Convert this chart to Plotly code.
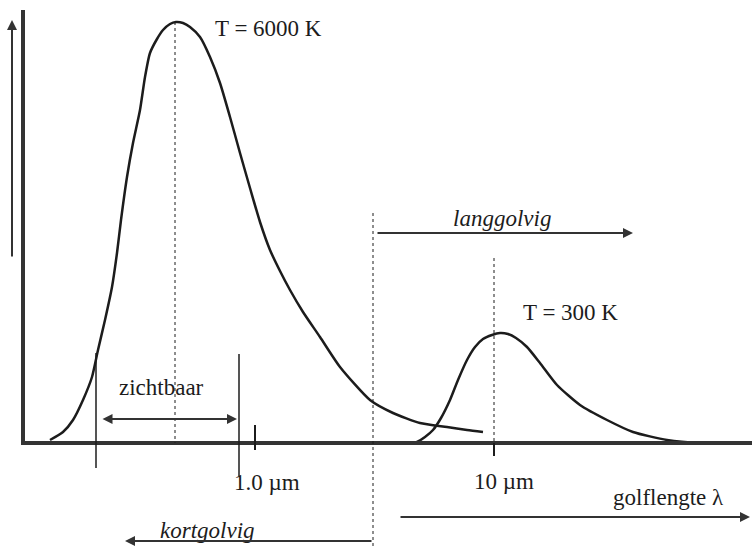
import plotly.graph_objects as go

# Sketch coordinates: x = position along wavelength axis, y = relative intensity
hot_x = [50, 63, 73, 83, 92, 98, 105, 112, 117, 121, 127, 133, 140, 145, 150, 157, 163, 170, 176, 183, 190, 200, 210, 220, 230, 240, 250, 260, 270, 280, 290, 303, 320, 340, 370, 393, 420, 447, 467, 483]
hot_y = [3, 11, 23, 43, 66, 93, 123, 156, 190, 223, 266, 300, 333, 366, 390, 404, 413, 419, 421, 420, 416, 406, 386, 360, 326, 290, 255, 221, 193, 172, 153, 131, 106, 76, 43, 30, 20, 16, 13, 11]
cold_x = [413, 417, 425, 433, 441, 450, 458, 467, 475, 483, 492, 500, 508, 516, 527, 540, 557, 580, 607, 633, 667, 700, 752]
cold_y = [0, 1, 6, 13, 25, 43, 63, 83, 96, 104, 108, 110, 109, 105, 96, 80, 58, 38, 23, 11, 3, 0, 0]

tick_pos = [255, 494]
tick_text = ["1.0 \u00b5m", "10 \u00b5m"]
visible_band = [96, 239]
boundary_x = 373

FONT = "Liberation Serif, Times New Roman, serif"
INK = "#1c1c1c"

fig = go.Figure()
for xs, ys in ((hot_x, hot_y), (cold_x, cold_y)):
    fig.add_trace(go.Scatter(x=xs, y=ys, mode="lines",
                             line=dict(color=INK, width=2.5, shape="spline", smoothing=0.6),
                             hoverinfo="skip"))

shapes = []
def line(x0, y0, x1, y1, w=1.5, dash="solid", color=INK):
    shapes.append(dict(type="line", xref="x", yref="y", x0=x0, y0=y0, x1=x1, y1=y1,
                       line=dict(color=color, width=w, dash=dash)))

# axes
line(23, 433, 23, 0, w=4, color="#333")
line(21, 0, 752, 0, w=4, color="#333")
# dotted guides
hot_peak = hot_x[hot_y.index(max(hot_y))]
line(hot_peak - 1, max(hot_y), hot_peak - 1, 0, w=1, dash="dot")
line(boundary_x, 230, boundary_x, -105, w=1, dash="dot")
line(tick_pos[1], 185, tick_pos[1], 0, w=1, dash="dot")
# visible band edges
line(visible_band[0], 90, visible_band[0], -25, w=1.5)
line(visible_band[1], 89, visible_band[1], -33, w=1.5)
# ticks
line(tick_pos[0], 18, tick_pos[0], -7, w=2)
line(tick_pos[1], 0, tick_pos[1], -13, w=2)

ann = []
def text(x, y, s, italic=False, size=23):
    ann.append(dict(x=x, y=y, xref="x", yref="y", text=("<i>%s</i>" % s) if italic else s,
                    showarrow=False, font=dict(family=FONT, size=size, color=INK)))
def arrow(x0, y0, x1, y1, side="end"):
    ann.append(dict(x=x1, y=y1, ax=x0, ay=y0, xref="x", yref="y", axref="x", ayref="y", text="",
                    showarrow=True, arrowhead=2, arrowsize=1, arrowwidth=2, arrowcolor="#333",
                    arrowside=side))

text(268, 415, "T = 6000 K")
text(570, 131, "T = 300 K")
text(161, 56, "zichtbaar")
text(tick_pos[0] + 12, -39, tick_text[0])
text(tick_pos[1] + 10, -38, tick_text[1])
text(668, -54, "golflengte \u03bb")
text(207, -87, "kortgolvig", italic=True)
text(502, 225, "langgolvig", italic=True)

arrow(12, 185, 12, 423)
arrow(101, 24, 237, 24, side="end+start")
arrow(boundary_x, -98, 125, -98)
arrow(boundary_x + 3, 210, 633, 210)
arrow(399, -74, 750, -74)

fig.update_layout(
    width=752, height=550, margin=dict(l=0, r=0, t=0, b=0),
    paper_bgcolor="white", plot_bgcolor="white", showlegend=False,
    xaxis=dict(range=[0, 752], visible=False, fixedrange=True),
    yaxis=dict(range=[-107, 443], visible=False, fixedrange=True),
    shapes=shapes, annotations=ann,
)
fig.write_html("out.html")
